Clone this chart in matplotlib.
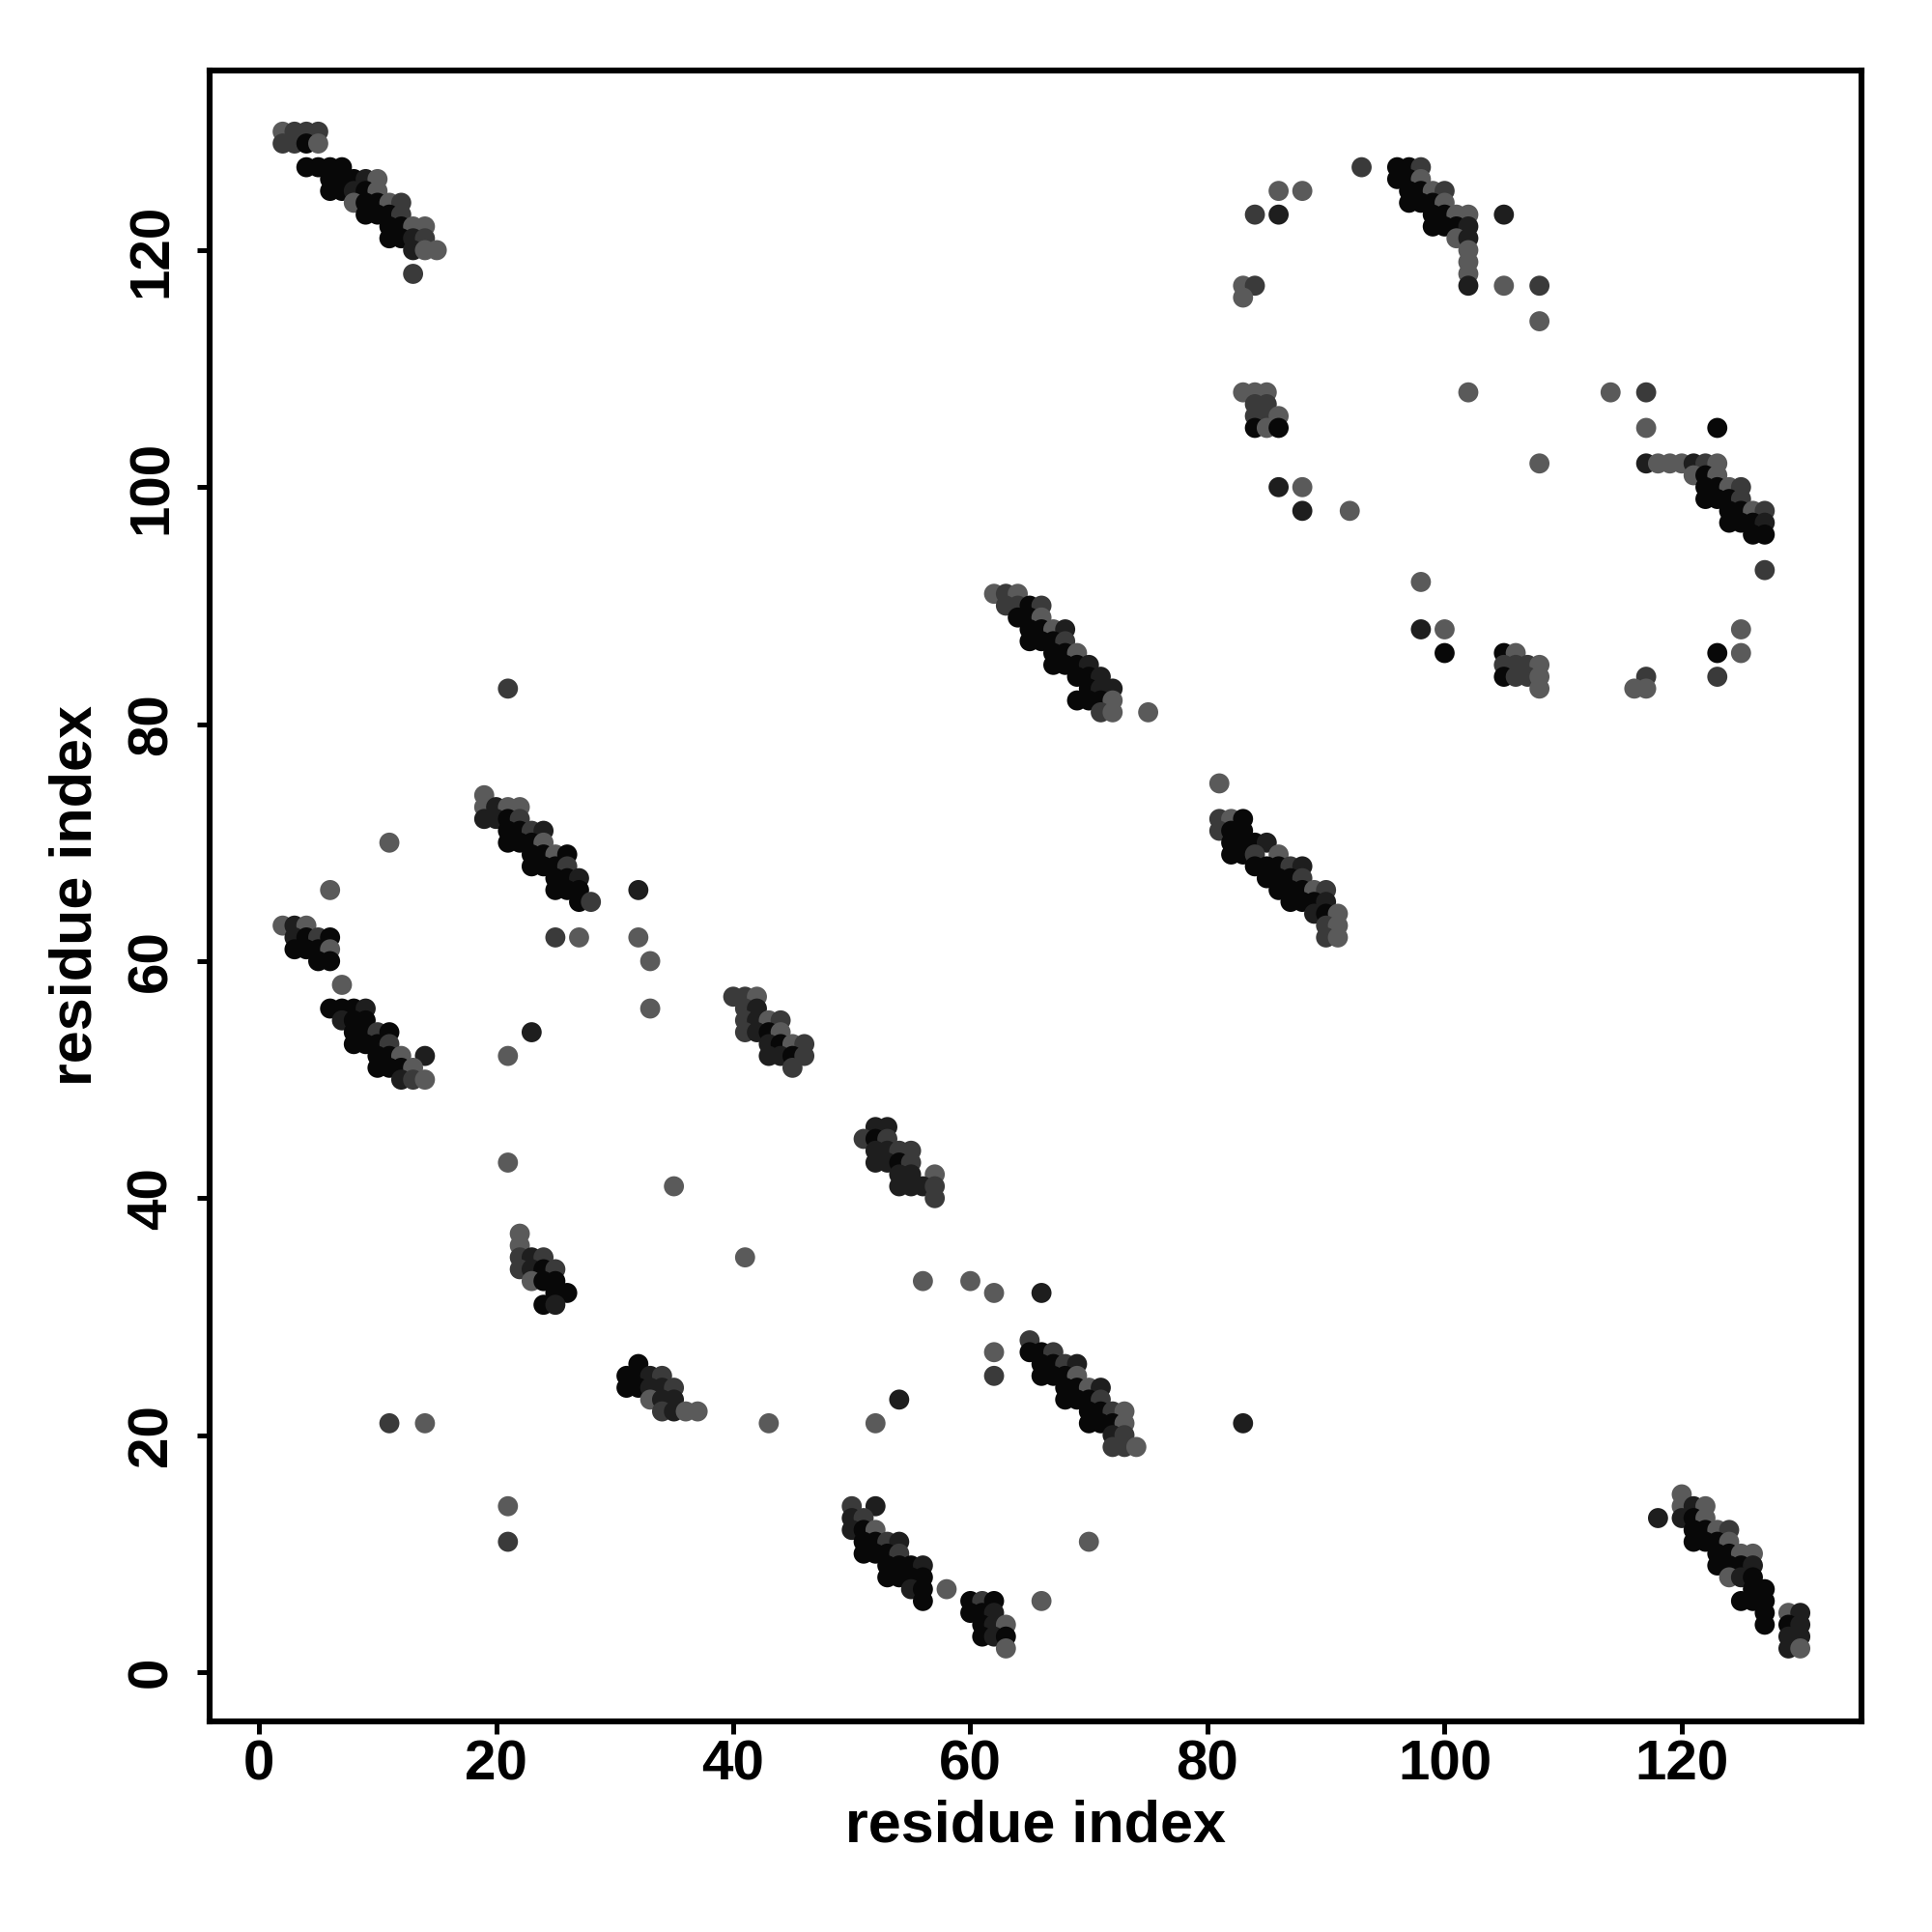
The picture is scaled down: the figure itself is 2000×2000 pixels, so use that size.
import matplotlib
matplotlib.use('Agg')
import matplotlib.pyplot as plt

# Contact map: (residue i, residue j, overlap level 1=light .. 4=black)
cluster_a = [(2,130,1),(3,130,2),(4,130,2),(5,130,2),
             (2,129,2),(3,129,2),(4,129,4),(5,129,1),
             (4,127,4),(5,127,4),(6,127,4),(7,127,4),
             (6,126,4),(7,126,4),(8,126,4),(9,126,3),(10,126,1),
             (6,125,4),(7,125,4),(8,125,3),(9,125,4),(10,125,1),
             (8,124,1),(9,124,4),(10,124,4),(11,124,1),(12,124,2),
             (9,123,4),(10,123,4),(11,123,4),(12,123,2),
             (11,122,4),(12,122,4),(13,122,1),(14,122,1),
             (11,121,4),(12,121,4),(13,121,3),(14,121,2),
             (13,120,3),(14,120,1),(15,120,1),
             (13,118,2)]

cluster_b = [(93,127,2),
             (96,127,4),(97,127,4),(98,127,2),
             (96,126,4),(97,126,4),(98,126,1),
             (97,125,4),(98,125,4),(99,125,1),(100,125,2),
             (97,124,4),(98,124,4),(99,124,4),(100,124,1),
             (99,123,4),(100,123,4),(101,123,1),(102,123,1),
             (99,122,4),(100,122,4),(101,122,4),(102,122,3),
             (101,121,1),(102,121,3),
             (102,120,1),(102,119,1),(102,118,1),(102,117,3)]

scatter_tr = [(86,125,1),(88,125,1),(84,123,2),(86,123,3),(105,123,3),
              (83,117,1),(84,117,2),(83,116,1),(105,117,1),(108,117,2),(108,114,1),
              (83,108,1),(84,108,1),(85,108,1),(84,107,2),(85,107,2),
              (84,106,2),(85,106,2),(86,106,1),(84,105,4),(85,105,1),(86,105,4),
              (86,100,3),(88,100,1),(88,98,3),(92,98,1),
              (102,108,1),(108,102,1),(98,92,1),(98,88,3),(100,88,1),(100,86,4),
              (105,86,4),(106,86,1),(105,85,2),(106,85,2),(107,85,2),(108,85,1),
              (105,84,4),(106,84,2),(107,84,2),(108,84,1),(108,83,1)]

cluster_c = [(114,108,1),(117,108,2),(117,105,1),(123,105,4),
             (117,102,3),(118,102,1),(119,102,1),(120,102,1),(121,102,3),(122,102,2),(123,102,1),
             (121,101,1),(122,101,4),(123,101,1),
             (122,100,4),(123,100,4),(124,100,1),(125,100,2),
             (122,99,4),(123,99,4),(124,99,4),(125,99,2),
             (124,98,4),(125,98,4),(126,98,1),(127,98,2),
             (124,97,4),(125,97,4),(126,97,4),(127,97,3),
             (126,96,4),(127,96,4),
             (127,93,2),
             (125,88,1),(123,86,4),(125,86,1),(117,84,2),(123,84,2),(116,83,1),(117,83,1)]

cluster_d = [(62,91,1),(63,91,2),(64,91,1),
             (63,90,2),(64,90,2),(65,90,4),(66,90,2),
             (64,89,4),(65,89,4),(66,89,1),
             (65,88,4),(66,88,4),(67,88,1),(68,88,3),
             (65,87,4),(66,87,4),(67,87,4),(68,87,2),
             (67,86,4),(68,86,4),(69,86,1),
             (67,85,4),(68,85,4),(69,85,4),(70,85,3),
             (69,84,4),(70,84,4),(71,84,3),
             (70,83,4),(71,83,3),(72,83,3),
             (69,82,4),(70,82,4),(71,82,4),(72,82,1),
             (71,81,2),(72,81,1),
             (75,81,1)]

cluster_e = [(81,75,1),
             (81,72,2),(82,72,1),(83,72,4),
             (81,71,2),(82,71,4),(83,71,4),
             (82,70,4),(83,70,4),(84,70,4),(85,70,3),
             (82,69,4),(83,69,4),(84,69,2),(86,69,1),
             (84,68,4),(85,68,4),(86,68,4),(87,68,2),(88,68,3),
             (85,67,4),(86,67,4),(87,67,4),(88,67,2),
             (86,66,4),(87,66,4),(88,66,4),(89,66,1),(90,66,2),
             (87,65,4),(88,65,4),(89,65,4),(90,65,3),
             (89,64,3),(90,64,4),(91,64,1),
             (90,63,2),(91,63,1),
             (90,62,2),(91,62,1)]

cluster_f = [(11,70,1),(6,66,1),
             (2,63,1),(3,63,3),(4,63,1),
             (3,62,3),(4,62,4),(5,62,2),(6,62,4),
             (3,61,4),(4,61,4),(5,61,4),(6,61,1),
             (5,60,4),(6,60,4),
             (7,58,1),
             (6,56,4),(7,56,4),(8,56,4),(9,56,3),
             (7,55,3),(8,55,4),(9,55,4),
             (8,54,4),(9,54,4),(10,54,2),(11,54,4),
             (8,53,4),(9,53,4),(10,53,4),(11,53,2),
             (10,52,4),(11,52,4),(12,52,1),(14,52,3),
             (10,51,4),(11,51,4),(12,51,4),(13,51,1),
             (12,50,3),(13,50,2),(14,50,1)]

cluster_g = [(21,83,2),
             (19,74,1),
             (19,73,1),(20,73,3),(21,73,1),(22,73,1),
             (19,72,3),(20,72,3),(21,72,4),(22,72,2),
             (21,71,4),(22,71,4),(23,71,2),(24,71,3),
             (21,70,4),(22,70,4),(23,70,4),(24,70,1),
             (23,69,4),(24,69,4),(25,69,1),(26,69,4),
             (23,68,4),(24,68,4),(25,68,4),(26,68,2),
             (25,67,4),(26,67,4),(27,67,3),
             (25,66,4),(26,66,4),(27,66,4),
             (27,65,4),(28,65,2),
             (32,66,3),(25,62,2),(27,62,1),(32,62,1),(33,60,1),(33,56,1),
             (23,54,3),(21,52,1)]

cluster_h = [(40,57,2),(41,57,2),(42,57,1),
             (41,56,2),(42,56,3),
             (41,55,2),(42,55,3),(43,55,1),(44,55,2),
             (41,54,2),(42,54,3),(43,54,4),(44,54,1),
             (43,53,3),(44,53,4),(45,53,1),(46,53,2),
             (43,52,3),(44,52,3),(45,52,4),(46,52,2),
             (45,51,2)]

cluster_i = [(52,46,3),(53,46,3),
             (51,45,2),(52,45,4),(53,45,2),
             (52,44,3),(53,44,3),(54,44,2),(55,44,2),
             (52,43,3),(53,43,3),(54,43,4),(55,43,2),
             (54,42,3),(55,42,3),(57,42,1),
             (54,41,3),(55,41,3),(56,41,3),(57,41,2),
             (57,40,2)]

cluster_j = [(21,43,1),(35,41,1),(41,35,1),
             (22,37,1),(22,36,1),
             (22,35,2),(23,35,3),(24,35,2),
             (22,34,2),(23,34,3),(24,34,4),(25,34,2),
             (23,33,1),(24,33,4),(25,33,4),
             (25,32,4),(26,32,4),
             (24,31,4),(25,31,3)]

cluster_k = [(32,26,4),
             (31,25,4),(32,25,4),(33,25,3),(34,25,2),
             (31,24,4),(32,24,4),(33,24,3),(34,24,3),(35,24,2),
             (33,23,1),(34,23,3),(35,23,3),
             (34,22,2),(35,22,3),(36,22,1),(37,22,1),
             (11,21,2),(14,21,1),(43,21,1),(21,14,1),(21,11,2)]

cluster_l = [(56,33,1),(60,33,1),(62,32,1),(66,32,3),(62,27,1),(62,25,2),
             (54,23,3),(52,21,1),(83,21,3),(70,11,1),(66,6,1),(58,7,1),
             (65,28,2),
             (65,27,4),(66,27,4),(67,27,2),
             (66,26,4),(67,26,4),(68,26,2),(69,26,3),
             (66,25,4),(67,25,4),(68,25,4),(69,25,1),
             (68,24,4),(69,24,4),(70,24,1),(71,24,3),
             (68,23,4),(69,23,4),(70,23,4),(71,23,2),
             (70,22,4),(71,22,4),(72,22,2),(73,22,1),
             (70,21,4),(71,21,4),(72,21,4),(73,21,1),
             (72,20,3),(73,20,2),
             (72,19,2),(73,19,2),(74,19,1)]

cluster_m = [(50,14,2),(52,14,3),
             (50,13,3),(51,13,2),
             (50,12,3),(51,12,4),(52,12,1),
             (51,11,4),(52,11,4),(53,11,2),(54,11,3),
             (51,10,4),(52,10,4),(53,10,4),(54,10,2),
             (53,9,4),(54,9,4),(55,9,4),(56,9,3),
             (53,8,4),(54,8,4),(55,8,4),(56,8,4),
             (55,7,3),(56,7,4),
             (56,6,4)]

cluster_n = [(60,6,4),(61,6,2),(62,6,4),
             (60,5,4),(61,5,4),(62,5,3),
             (61,4,4),(62,4,3),(63,4,1),
             (61,3,4),(62,3,3),(63,3,4),
             (63,2,1)]

cluster_o = [(118,13,3),
             (120,15,1),
             (120,14,1),(121,14,3),(122,14,1),
             (120,13,3),(121,13,4),(122,13,1),
             (121,12,4),(122,12,4),(123,12,1),(124,12,2),
             (121,11,4),(122,11,4),(123,11,4),(124,11,1),
             (123,10,4),(124,10,4),(125,10,1),(126,10,1),
             (123,9,4),(124,9,4),(125,9,4),(126,9,3),
             (124,8,1),(125,8,3),(126,8,4),
             (126,7,4),(127,7,4),
             (125,6,4),(126,6,4),(127,6,4),
             (127,5,4),(127,4,4),
             (129,5,1),(130,5,3),(129,4,4),(130,4,3),
             (129,3,3),(130,3,3),(129,2,3),(130,2,1)]

clusters = [cluster_a, cluster_b, scatter_tr, cluster_c, cluster_d, cluster_e,
            cluster_f, cluster_g, cluster_h, cluster_i, cluster_j, cluster_k,
            cluster_l, cluster_m, cluster_n, cluster_o]

tick_values = [0, 20, 40, 60, 80, 100, 120]
axis_label = "residue index"

level_colors = {1: '#5a5a5a', 2: '#3a3a3a', 3: '#1e1e1e', 4: '#080808'}

plt.rcParams['font.family'] = ['Liberation Sans', 'DejaVu Sans']

fig = plt.figure(figsize=(10, 10), dpi=200)
ax = fig.add_axes([0.1085, 0.109, 0.855, 0.8545])

xs, ys, cs = [], [], []
for cl in clusters:
    for i, j, lev in cl:
        xs.append(i)
        ys.append(j)
        cs.append(level_colors[lev])
ax.scatter(xs, ys, c=cs, s=56, linewidths=0, zorder=3)

ax.set_xlim(-4.16, 135.16)
ax.set_ylim(-4.16, 135.16)
ax.set_xticks(tick_values)
ax.set_yticks(tick_values)
ax.set_xticklabels([str(v) for v in tick_values], fontsize=21, fontweight='bold')
ax.set_yticklabels([str(v) for v in tick_values], fontsize=21, fontweight='bold',
                   rotation=90, va='center')
ax.tick_params(axis='both', direction='out', length=4.7, width=1.8, color='black')
ax.tick_params(axis='x', pad=2)
ax.tick_params(axis='y', pad=7)
for sp in ax.spines.values():
    sp.set_linewidth(2.2)
    sp.set_color('black')

ax.set_xlabel(axis_label, fontsize=22, fontweight='bold', va='center')
ax.xaxis.set_label_coords(0.5, -0.0638)
ax.set_ylabel(axis_label, fontsize=22, fontweight='bold', va='center')
ax.yaxis.set_label_coords(-0.0808, 0.5)

fig.savefig('out.png', dpi=200, facecolor='white')
